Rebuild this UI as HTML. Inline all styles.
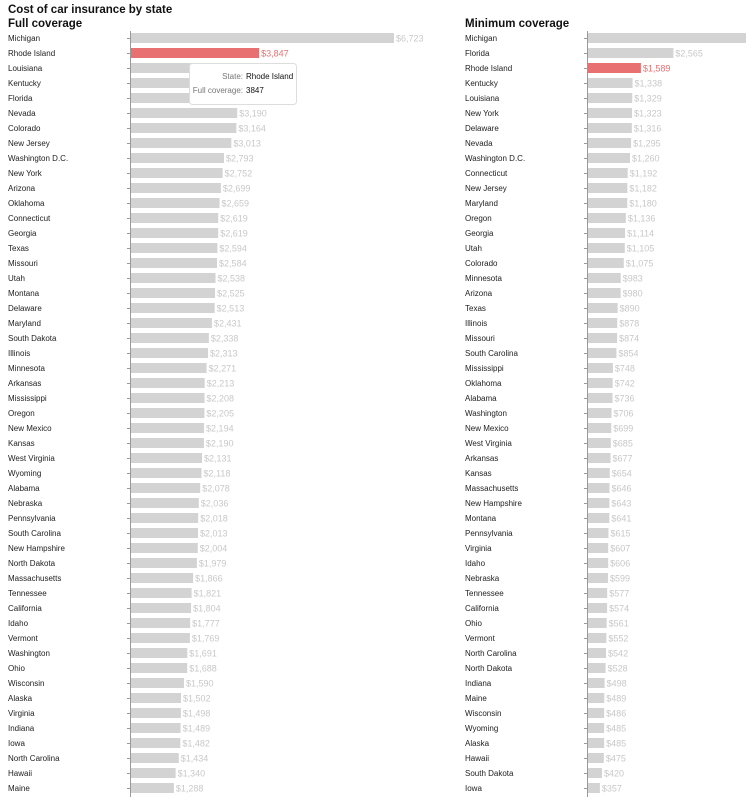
<!DOCTYPE html>
<html><head><meta charset="utf-8"><style>
body{margin:0;background:#fff;width:753px;height:802px;overflow:hidden;font-family:"Liberation Sans",sans-serif}
svg text{font-family:"Liberation Sans",sans-serif}
</style></head><body>
<svg id="c" width="753" height="802">
<text x="8" y="13" font-size="11.5" font-weight="bold" fill="#111">Cost of car insurance by state</text>
<text x="8" y="27" font-size="11.5" font-weight="bold" fill="#111">Full coverage</text>
<text x="465" y="27" font-size="11.5" font-weight="bold" fill="#111">Minimum coverage</text>
</svg>
<script>
const fullStates=["Michigan","Rhode Island","Louisiana","Kentucky","Florida","Nevada","Colorado","New Jersey","Washington D.C.","New York","Arizona","Oklahoma","Connecticut","Georgia","Texas","Missouri","Utah","Montana","Delaware","Maryland","South Dakota","Illinois","Minnesota","Arkansas","Mississippi","Oregon","New Mexico","Kansas","West Virginia","Wyoming","Alabama","Nebraska","Pennsylvania","South Carolina","New Hampshire","North Dakota","Massachusetts","Tennessee","California","Idaho","Vermont","Washington","Ohio","Wisconsin","Alaska","Virginia","Indiana","Iowa","North Carolina","Hawaii","Maine"];
const fullValues=[7900,3847,3500,3450,3400,3190,3164,3013,2793,2752,2699,2659,2619,2619,2594,2584,2538,2525,2513,2431,2338,2313,2271,2213,2208,2205,2194,2190,2131,2118,2078,2036,2018,2013,2004,1979,1866,1821,1804,1777,1769,1691,1688,1590,1502,1498,1489,1482,1434,1340,1288];
const fullLabels=["$6,723","$3,847","","","","$3,190","$3,164","$3,013","$2,793","$2,752","$2,699","$2,659","$2,619","$2,619","$2,594","$2,584","$2,538","$2,525","$2,513","$2,431","$2,338","$2,313","$2,271","$2,213","$2,208","$2,205","$2,194","$2,190","$2,131","$2,118","$2,078","$2,036","$2,018","$2,013","$2,004","$1,979","$1,866","$1,821","$1,804","$1,777","$1,769","$1,691","$1,688","$1,590","$1,502","$1,498","$1,489","$1,482","$1,434","$1,340","$1,288"];
const minStates=["Michigan","Florida","Rhode Island","Kentucky","Louisiana","New York","Delaware","Nevada","Washington D.C.","Connecticut","New Jersey","Maryland","Oregon","Georgia","Utah","Colorado","Minnesota","Arizona","Texas","Illinois","Missouri","South Carolina","Mississippi","Oklahoma","Alabama","Washington","New Mexico","West Virginia","Arkansas","Kansas","Massachusetts","New Hampshire","Montana","Pennsylvania","Virginia","Idaho","Nebraska","Tennessee","California","Ohio","Vermont","North Carolina","North Dakota","Indiana","Maine","Wisconsin","Wyoming","Alaska","Hawaii","South Dakota","Iowa"];
const minValues=[5000,2565,1589,1338,1329,1323,1316,1295,1260,1192,1182,1180,1136,1114,1105,1075,983,980,890,878,874,854,748,742,736,706,699,685,677,654,646,643,641,615,607,606,599,577,574,561,552,542,528,498,489,486,485,485,475,420,357];
const minLabels=["","$2,565","$1,589","$1,338","$1,329","$1,323","$1,316","$1,295","$1,260","$1,192","$1,182","$1,180","$1,136","$1,114","$1,105","$1,075","$983","$980","$890","$878","$874","$854","$748","$742","$736","$706","$699","$685","$677","$654","$646","$643","$641","$615","$607","$606","$599","$577","$574","$561","$552","$542","$528","$498","$489","$486","$485","$485","$475","$420","$357"];
const NS="http://www.w3.org/2000/svg",svg=document.getElementById('c');
const K=0.0333;
function xs(v,x0,maxX){return Math.min(v*K,maxX-x0);}
function yr(i){return 38+i*15;}
function mk(t,a,p){const e=document.createElementNS(NS,t);for(const k in a)e.setAttribute(k,a[k]);(p||svg).appendChild(e);return e;}
function panel(states,vals,labels,lx,ax,maxX,pref){
  const ln=mk('line',{x1:ax+0.5,x2:ax+0.5,y1:31,y2:797,stroke:'#999','stroke-width':1});
  
  
  states.forEach((s,i)=>{
    const y=yr(i);
    const t=mk('text',{x:lx,y:y+3,'font-size':8,fill:'#222'});t.textContent=s;
    
    
    const tk=mk('line',{x1:ax-3,x2:ax,y1:y+0.5,y2:y+0.5,stroke:'#999','stroke-width':1});
    
    
    const hi=s==='Rhode Island';
    const w=xs(vals[i],ax+1,maxX);
    const b=mk('rect',{x:ax+1,y:y-5,width:w,height:10,fill:hi?'#e87070':'#d3d3d3'});
    
    
    if(labels[i]){const v=mk('text',{x:ax+3+w,y:y+3.5,'font-size':9,fill:hi?'#e87070':'#c8c8c8'});v.textContent=labels[i];
    
    }
  });
}
panel(fullStates,fullValues,fullLabels,8,130,394,'full');
panel(minStates,minValues,minLabels,465,587,746,'min');
const g=mk('g',{});


mk('rect',{x:189.5,y:63.5,width:107,height:41,rx:3,fill:'#fff',stroke:'#ddd','stroke-width':1},g);
const t1=mk('text',{x:243,y:79,'font-size':8,fill:'#777','text-anchor':'end'},g);t1.textContent='State:';
const t2=mk('text',{x:246,y:79,'font-size':8,fill:'#111'},g);t2.textContent='Rhode Island';
const t3=mk('text',{x:243,y:93,'font-size':8,fill:'#777','text-anchor':'end'},g);t3.textContent='Full coverage:';
const t4=mk('text',{x:246,y:93,'font-size':8,fill:'#111'},g);t4.textContent='3847';
</script>
</body></html>
